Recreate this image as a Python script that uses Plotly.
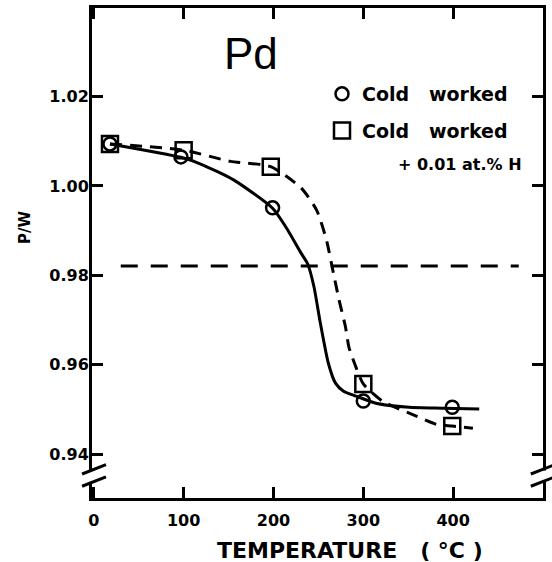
import plotly.graph_objects as go

# ---- data ----
CW_T = [18, 97, 199, 300, 399]
CW_PW = [1.0094, 1.0065, 0.9951, 0.9519, 0.9505]
CWH_T = [18, 100, 197, 300, 399]
CWH_PW = [1.0094, 1.0080, 1.0043, 0.9557, 0.9463]

CW_CURVE_T = [18, 97, 119, 156, 199, 216, 230, 238, 245, 252, 261, 269, 278, 292, 314, 351, 389, 429]
CW_CURVE_PW = [1.0094, 1.0064, 1.0049, 1.0013, 0.9950, 0.9901, 0.9852, 0.9826, 0.9775, 0.9695,
               0.9604, 0.9559, 0.9541, 0.9530, 0.9514, 0.9505, 0.9503, 0.9501]

CWH_CURVE_T = [18, 100, 152, 197, 231, 248, 259, 266, 273, 280, 284, 291, 300, 321, 359, 381, 399, 422]
CWH_CURVE_PW = [1.0094, 1.0080, 1.0055, 1.0043, 0.9995, 0.9946, 0.9879, 0.9812, 0.9745,
                0.9686, 0.9639, 0.9599, 0.9557, 0.9519, 0.9485, 0.9467, 0.9463, 0.9458]

REF_T = [30, 473]
REF_PW = [0.9821, 0.9821]

X_TICKS = [0, 100, 200, 300, 400]
Y_TICKS = [0.94, 0.96, 0.98, 1.00, 1.02]
Y_TICKTEXT = ["0.94", "0.96", "0.98", "1.00", "1.02"]

BOLD = dict(family="DejaVu Sans", weight="bold", color="black")
NB3 = "\u00a0\u00a0\u00a0"

fig = go.Figure()
fig.add_trace(go.Scatter(x=CW_CURVE_T, y=CW_CURVE_PW, mode="lines",
                         line=dict(color="black", width=3, shape="spline", smoothing=0.6),
                         showlegend=False, hoverinfo="skip"))
fig.add_trace(go.Scatter(x=CWH_CURVE_T, y=CWH_CURVE_PW, mode="lines",
                         line=dict(color="black", width=3, dash="12px,8px", shape="spline", smoothing=0.6),
                         showlegend=False, hoverinfo="skip"))
fig.add_trace(go.Scatter(x=REF_T, y=REF_PW, mode="lines",
                         line=dict(color="black", width=3, dash="17px,13px"),
                         showlegend=False, hoverinfo="skip"))
fig.add_trace(go.Scatter(x=CW_T, y=CW_PW, mode="markers", name="Cold" + NB3 + "worked",
                         legendgroup="a",
                         marker=dict(symbol="circle-open", size=13, color="black",
                                     line=dict(width=2.5, color="black"))))
fig.add_trace(go.Scatter(x=CWH_T, y=CWH_PW, mode="markers", name="Cold" + NB3 + "worked",
                         legendgroup="b",
                         marker=dict(symbol="square-open", size=16, color="black",
                                     line=dict(width=2.5, color="black"))))

axis_common = dict(showline=True, linewidth=3, linecolor="black", mirror="ticks",
                   ticks="inside", ticklen=11, tickwidth=2.5, tickcolor="black",
                   showgrid=False, zeroline=False, automargin=False)

fig.update_xaxes(range=[-2, 500], tickvals=X_TICKS, tickfont=dict(size=16, **BOLD),
                 ticklabelstandoff=6, **axis_common)
fig.update_yaxes(range=[0.9302, 1.0398], tickvals=Y_TICKS, ticktext=Y_TICKTEXT,
                 tickfont=dict(size=16, **BOLD), ticklabelstandoff=-3, **axis_common)

# axis breaks (white gap + two slashes on each side)
shapes = []
for xc, x0, x1 in [(0.0, -0.022, 0.031), (1.0, 0.973, 1.026)]:
    shapes.append(dict(type="rect", xref="paper", yref="paper", x0=xc - 0.012, x1=xc + 0.012,
                       y0=0.033, y1=0.056, fillcolor="white", line=dict(width=0), layer="above"))
    shapes.append(dict(type="line", xref="paper", yref="paper", x0=x0, x1=x1,
                       y0=0.049, y1=0.068, line=dict(color="black", width=3), layer="above"))
    shapes.append(dict(type="line", xref="paper", yref="paper", x0=x0, x1=x1,
                       y0=0.024, y1=0.043, line=dict(color="black", width=3), layer="above"))

annotations = [
    dict(text="Pd", x=0.3525, y=0.908, xref="paper", yref="paper", showarrow=False,
         font=dict(family="Liberation Sans", size=44, color="black"), xanchor="center", yanchor="middle"),
    dict(text="+ 0.01 at.% H", x=(396 - 92) / 451, y=(498 - 165) / 490, xref="paper", yref="paper",
         showarrow=False, font=dict(size=16, **BOLD), xanchor="left", yanchor="middle"),
    dict(text="TEMPERATURE" + NB3 + "( °C )", x=(350 - 92) / 451, y=(498 - 550) / 490,
         xref="paper", yref="paper", showarrow=False, font=dict(size=22, **BOLD),
         xanchor="center", yanchor="middle"),
    dict(text="P/W", x=(25 - 92) / 451, y=(498 - 228) / 490, xref="paper", yref="paper",
         showarrow=False, textangle=-90, font=dict(size=15, **BOLD),
         xanchor="center", yanchor="middle"),
]

fig.update_layout(
    width=552, height=562,
    margin=dict(l=92, r=9, t=8, b=64, autoexpand=False),
    plot_bgcolor="white", paper_bgcolor="white",
    shapes=shapes, annotations=annotations,
    legend=dict(x=(322 - 92) / 451, y=(498 - 75) / 490, xanchor="left", yanchor="top",
                font=dict(size=19, **BOLD), bgcolor="rgba(0,0,0,0)",
                tracegroupgap=9, itemsizing="trace", traceorder="grouped"),
)

fig.write_html("out.html", config={"displayModeBar": False},
               post_script="document.body.style.margin='0';document.body.style.padding='0';")
